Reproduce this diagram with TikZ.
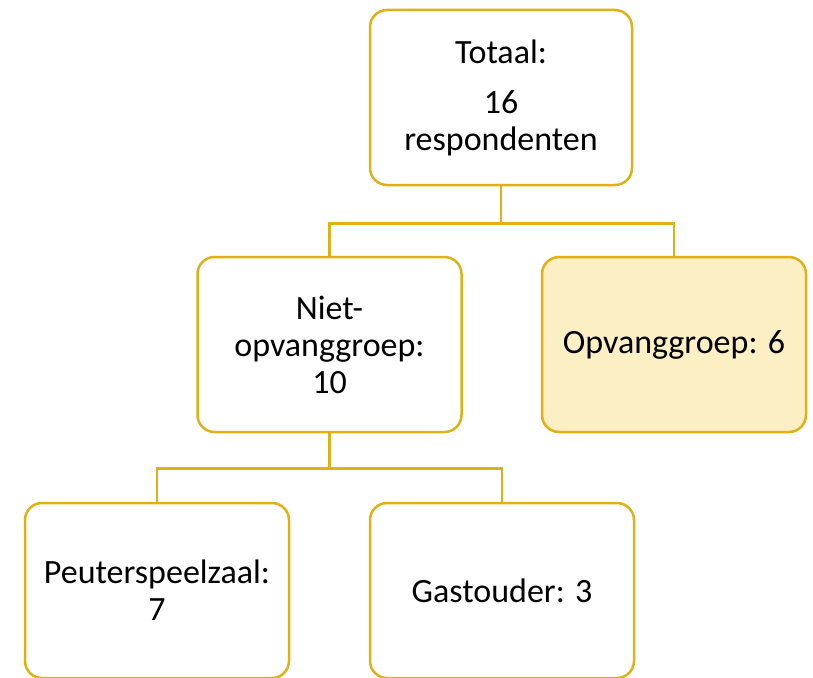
\documentclass[tikz,border=0pt]{standalone}
\usepackage{fontspec}
\setmainfont{Carlito}
\definecolor{gold}{RGB}{224,176,20}
\definecolor{lightgold}{RGB}{252,239,196}
\begin{document}
\begin{tikzpicture}[x=1pt,y=1pt,
  box/.style={draw=gold, line width=2.5pt, rounded corners=17pt, fill=white,
    minimum width=264pt, minimum height=175pt, inner sep=0pt, align=center,
    font=\fontsize{34}{37}\selectfont},
  link/.style={draw=gold, line width=2.5pt}]
\useasboundingbox (0,0) rectangle (813,-677);
\begin{scope}
\clip (0,0) rectangle (813,-677);
\node[box, minimum width=262pt] (tot) at (501,-97.5) {Totaal:\\[13pt]16\\respondenten};
\node[box] (niet) at (329.5,-344.5) {Niet-\\opvanggroep:\\10};
\node[box, fill=lightgold] (opv) at (674,-344.5) {Opvanggroep: 6};
\node[box] (peu) at (157,-590.5) {Peuterspeelzaal:\\7};
\node[box] (gas) at (502,-590.5) {Gastouder: 3};
\draw[link] (tot.south) -- ++(0,-37) coordinate (j1) -| (niet.north);
\draw[link] (j1) -| (opv.north);
\draw[link] (niet.south) -- ++(0,-35) coordinate (j2) -| (peu.north);
\draw[link] (j2) -| (gas.north);
\end{scope}
\end{tikzpicture}
\end{document}
